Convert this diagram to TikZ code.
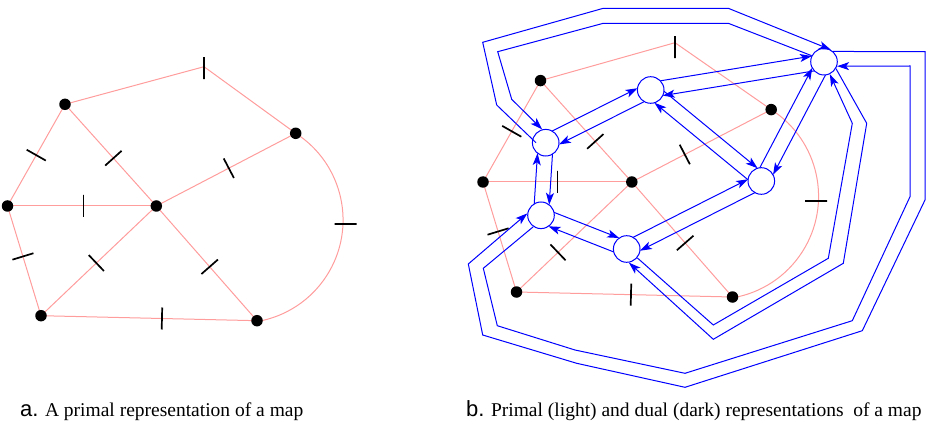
\documentclass[tikz,border=0pt]{standalone}
\usepackage{fontspec}
\setmainfont{Liberation Serif}
\newfontfamily\tagfont{Liberation Sans}
\usetikzlibrary{arrows.meta,calc}
\definecolor{primalpink}{HTML}{FF9C9C}
\definecolor{dualblue}{HTML}{0000FF}
\tikzset{
  primal/.style={draw=primalpink, line width=1pt},
  vertexdot/.style={circle, fill=black, inner sep=0pt, minimum size=11.5pt},
  crosstick/.style={draw=black, line width=1.7pt, inner sep=0pt,
    minimum width=0pt, minimum height=22pt, sloped},
  faceblob/.style={circle, draw=dualblue, line width=1pt, inner sep=0pt,
    minimum size=26.6pt},
  dualarc/.style={draw=dualblue, line width=1pt,
    -{Stealth[length=12pt,width=8pt,inset=3pt]}},
  caption/.style={font=\rmfamily\fontsize{19.5}{22}\selectfont, anchor=base west, inner sep=0pt}
}
\begin{document}
\begin{tikzpicture}[x=1pt,y=-1pt]
  \useasboundingbox (0,0) rectangle (926,422);
  % a. primal map
  \coordinate (la) at (65,104.3);
  \coordinate (lb) at (7.5,206);
  \coordinate (lc) at (41,315.7);
  \coordinate (ld) at (156.3,206);
  \coordinate (le) at (295.7,133.3);
  \coordinate (lf) at (257,320.7);
  \coordinate (lt) at (204,66.7);
  \foreach \u/\v/\p in {a/b/0.50,a/d/0.53,b/d/0.51,d/e/0.52,b/c/0.46,d/c/0.52,d/f/0.53,c/f/0.56}
    \draw[primal] (l\u) -- node[crosstick,pos=\p]{} (l\v);
  \draw[primal] (la) -- (lt) -- (le);
  \draw[primal] (le) arc[start angle=-57.3, end angle=80.4, radius=103];
  \node[crosstick] (ltick) at ($(lt)+(0,1.5)$) {};
  \node[crosstick,rotate=90] (larc) at (345.5,224.3) {};
  \foreach \v in {a,b,c,d,e,f}
    \node[vertexdot] (lv\v) at (l\v) {};

  % b. primal (light) and dual (dark)
  \coordinate (ra) at (540.5,80.6);
  \coordinate (rb) at (483,182);
  \coordinate (rc) at (516.5,292);
  \coordinate (rd) at (631.8,182);
  \coordinate (re) at (771.2,109.6);
  \coordinate (rf) at (732.5,297);
  \coordinate (rt) at (675,42.7);
  \foreach \u/\v/\p in {a/b/0.50,a/d/0.60,b/d/0.50,d/e/0.38,b/c/0.45,d/c/0.64,d/f/0.53,c/f/0.53}
    \draw[primal] (r\u) -- node[crosstick,pos=\p]{} (r\v);
  \draw[primal] (ra) -- (rt) -- (re);
  \draw[primal] (re) arc[start angle=-57.3, end angle=80.4, radius=103];
  \node[crosstick] (rtick) at ($(rt)+(0,4.5)$) {};
  \node[crosstick,rotate=90] (rarc) at (816,200.7) {};
  \foreach \v in {a,b,c,d,e,f}
    \node[vertexdot] (rv\v) at (r\v) {};

  \node[faceblob] (f1) at (545.7,142.7) {};
  \node[faceblob] (f2) at (650.7,90) {};
  \node[faceblob] (f3) at (824,61.7) {};
  \node[faceblob] (f4) at (761.3,181) {};
  \node[faceblob] (f5) at (541,215.3) {};
  \node[faceblob] (f6) at (626.7,249) {};
  % each dual edge twice, one arc per direction
  \foreach \a/\b in {f1/f2,f2/f1,f2/f3,f3/f2,f1/f5,f5/f1,f2/f4,f4/f2,f3/f4,f4/f3,f4/f6,f6/f4,f5/f6,f6/f5}
    \draw[dualarc,shorten <=11pt,shorten >=11pt] ($(\a)!7.5pt!90:(\b)$) -- ($(\b)!7.5pt!-90:(\a)$);
  % loops through the outer face
  \draw[dualarc] ($(f1)+(-9.7,0)$) -- (496.7,105) -- (482.7,42.3) -- (603.3,8.3)
    -- (728.3,8.3) -- (f3.60);
  \draw[dualarc] (f3.154) -- (728.3,23.3) -- (603.3,23.3) -- (497.7,51.7)
    -- (511.7,99.3) -- (f1.105);
  \draw[dualarc] (f3.48) -- (925,51.7) -- (925,200) -- (862.3,330.7) -- (685,387.3)
    -- (576.7,363.3) -- (482.7,335) -- (468.3,264) -- (f5.172);
  \draw[dualarc] (f5.236) -- (483.3,268.3) -- (497.3,325.7) -- (575,350) -- (685,373.3)
    -- (852.3,320.7) -- (910,196.7) -- (910,66) -- (f3.-19);
  \draw[dualarc] (f3.-30) -- (866.7,123.3) -- (843.3,263.3) -- (713.3,339.3) -- (f6.-81);
  \draw[dualarc] (f6.-40) -- (713.3,325) -- (828.3,258.3) -- (852.3,123.3) -- (f3.-65);

  \node[caption] (capa) at (20,416) {{\tagfont\fontsize{22}{24}\selectfont a.} A primal representation of a map};
  \node[caption] (capb) at (466,416) {{\tagfont\fontsize{22}{24}\selectfont b.} Primal (light) and dual (dark) representations\ \ of a map};
\end{tikzpicture}
\end{document}
